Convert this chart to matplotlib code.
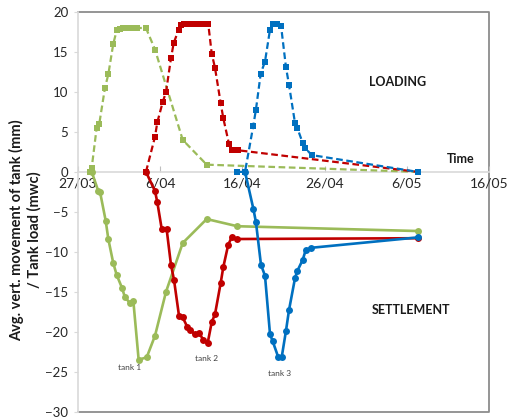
import matplotlib
matplotlib.use("Agg")
import matplotlib.pyplot as plt

# ------------------------------------------
# settings
# ------------------------------------------

plt.rcParams["font.family"] = ["Lato", "DejaVu Sans"]

GREEN = "#9BBB59"
RED = "#C00000"
BLUE = "#0070C0"

# days counted from 27/03
TICK_DAYS = [0, 10, 20, 30, 40, 50]
TICK_LABELS = ["27/03", "6/04", "16/04", "26/04", "6/05", "16/05"]

# ------------------------------------------
# data: tank load (mwc), dashed
# ------------------------------------------

load1_day = [1.46, 1.67, 2.27, 2.59, 3.28, 3.69, 4.29, 4.71, 5.11, 5.51, 5.92,
             6.33, 6.73, 7.14, 8.27, 9.37, 12.74, 15.66, 41.33]
load1_val = [0.0, 0.5, 5.5, 6.0, 10.5, 12.2, 16.0, 17.7, 17.9, 18.0, 18.0,
             18.0, 18.0, 18.0, 18.0, 15.3, 4.0, 0.9, 0.0]

load2_day = [8.27, 9.37, 9.65, 10.30, 10.71, 11.31, 11.64, 12.25, 12.53, 12.93,
             13.34, 13.75, 14.15, 14.56, 14.96, 15.36, 15.85, 16.27, 16.67,
             17.36, 17.68, 18.37, 18.70, 19.50, 41.33]
load2_val = [0.0, 4.4, 6.2, 8.7, 10.0, 14.2, 16.1, 17.8, 18.4, 18.5,
             18.5, 18.5, 18.5, 18.5, 18.5, 18.5, 18.5, 14.8, 13.0,
             8.6, 6.7, 3.5, 2.7, 2.7, 0.0]

load3_day = [19.38, 20.32, 21.33, 21.65, 22.23, 22.75, 23.36, 23.69, 24.17,
             24.70, 25.30, 25.67, 26.40, 26.68, 27.34, 27.62, 28.43, 41.33]
load3_val = [0.0, 0.0, 5.8, 7.8, 12.3, 13.8, 17.8, 18.5, 18.5,
             18.3, 13.1, 10.9, 6.1, 5.5, 3.6, 3.0, 2.1, 0.0]

# ------------------------------------------
# data: avg. vertical movement (mm), solid
# ------------------------------------------

sett1_day = [1.67, 2.47, 2.68, 3.37, 3.69, 4.29, 4.71, 5.35, 5.72, 6.33, 6.73,
             7.38, 8.36, 9.37, 10.71, 12.74, 15.66, 19.38, 41.33]
sett1_val = [0.0, -2.4, -2.5, -6.1, -8.4, -11.4, -12.9, -14.5, -15.7, -16.4,
             -16.1, -23.5, -23.2, -20.5, -15.0, -8.9, -5.9, -6.8, -7.4]

sett2_day = [8.27, 9.37, 9.65, 10.18, 10.79, 11.31, 11.68, 12.29, 12.74, 13.30,
             13.63, 14.23, 14.76, 15.24, 15.78, 16.27, 16.67, 17.36, 17.68,
             18.28, 18.70, 19.31, 41.33]
sett2_val = [0.0, -2.4, -3.8, -7.1, -7.2, -11.6, -13.5, -18.0, -18.2, -19.4,
             -19.8, -20.3, -20.2, -21.0, -21.4, -18.8, -17.8, -13.9, -11.9,
             -9.1, -8.2, -8.4, -8.3]

sett3_day = [20.32, 21.33, 21.65, 22.26, 22.75, 23.36, 23.69, 24.37, 24.78,
             25.30, 25.67, 26.40, 26.68, 27.34, 27.70, 28.35, 41.33]
sett3_val = [0.0, -4.6, -6.3, -11.6, -13.0, -20.3, -21.2, -23.2, -23.2,
             -19.9, -17.3, -13.3, -12.4, -11.0, -9.8, -9.5, -8.2]

# ------------------------------------------
# figure
# ------------------------------------------

fig = plt.figure(figsize=(5.08, 4.18), dpi=100)
ax = fig.add_axes([0.1535, 0.0151, 0.8091, 0.9562])

dash = (0, (3, 1.6))
for d, v, c in [(load1_day, load1_val, GREEN),
                (load2_day, load2_val, RED),
                (load3_day, load3_val, BLUE)]:
    ax.plot(d, v, color=c, lw=1.6, ls=dash, marker="s", ms=5,
            markeredgewidth=0, zorder=3)

for d, v, c in [(sett1_day, sett1_val, GREEN),
                (sett2_day, sett2_val, RED),
                (sett3_day, sett3_val, BLUE)]:
    ax.plot(d, v, color=c, lw=1.9, ls="-", marker="o", ms=5,
            markeredgewidth=0, zorder=3)

ax.set_xlim(0, 50)
ax.set_ylim(-30, 20)
ax.set_yticks(range(-30, 21, 5))

# horizontal axis sits at zero
ax.spines["bottom"].set_position(("data", 0))
ax.spines["bottom"].set_color("#D9D9D9")
ax.spines["bottom"].set_linewidth(1.2)
ax.spines["left"].set_color("#D9D9D9")
ax.spines["left"].set_linewidth(1.2)
ax.spines["top"].set_visible(False)
ax.spines["right"].set_visible(False)

# outer frame
ax.plot([0, 1, 1, 0], [1, 1, 0, 0], transform=ax.transAxes, color="#8C8C8C",
        lw=1.3, clip_on=False, zorder=1)

ax.set_xticks(TICK_DAYS)
ax.set_xticklabels(TICK_LABELS)
ax.tick_params(axis="x", direction="in", length=4, color="#BFBFBF",
               labelsize=10, pad=4, labelcolor="#262626")
ax.tick_params(axis="y", direction="out", length=3, color="#D9D9D9",
               labelsize=9.5, pad=4, labelcolor="#262626")

# texts
ax.text(38.9, 11.2, "LOADING", fontsize=9, fontweight="bold",
        ha="center", va="center", color="#1A1A1A")
ax.text(40.5, -17.3, "SETTLEMENT", fontsize=9, fontweight="bold",
        ha="center", va="center", color="#1A1A1A")
ax.text(46.5, 1.6, "Time", fontsize=9, fontweight="bold",
        ha="center", va="center", color="#1A1A1A")
ax.text(6.33, -24.5, "tank 1", fontsize=6, ha="center", va="center",
        color="#404040")
ax.text(15.6, -23.4, "tank 2", fontsize=6, ha="center", va="center",
        color="#404040")
ax.text(24.5, -25.2, "tank 3", fontsize=6, ha="center", va="center",
        color="#404040")

fig.text(0.050, 0.45, "Avg. vert. movement of tank (mm)\n/ Tank load (mwc)",
         rotation=90, ha="center", va="center", multialignment="center",
         fontsize=10.5, fontweight="bold", color="#1A1A1A", linespacing=1.2)

fig.savefig("out.png", dpi=100)
